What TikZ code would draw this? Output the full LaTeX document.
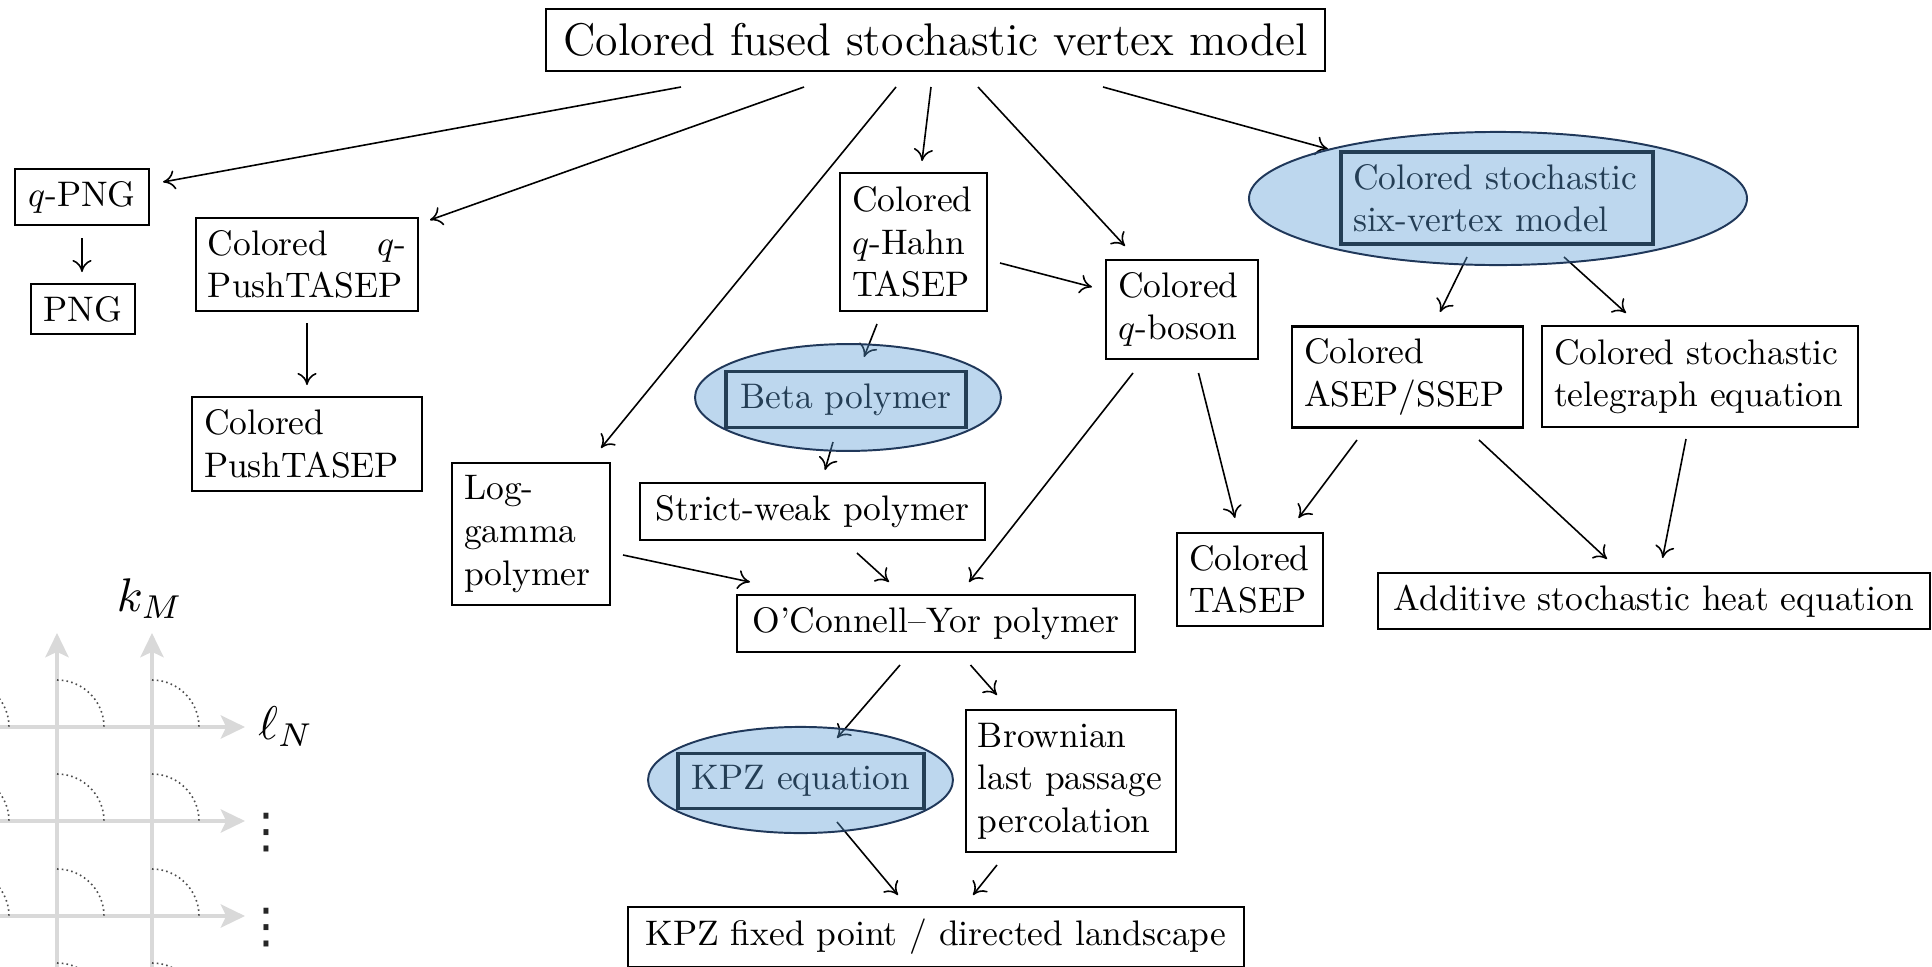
\documentclass[tikz,border=0pt]{standalone}
\usepackage{graphicx}
\usepackage{fontspec}
\newfontfamily\djv{DejaVu Sans}
\usetikzlibrary{arrows.meta,shapes.geometric}
\definecolor{ellfill}{RGB}{91,155,213}
\definecolor{ellline}{RGB}{32,56,90}
\definecolor{latgray}{RGB}{217,217,217}
\begin{document}
\begin{tikzpicture}[x=0.2817pt,y=-0.2817pt,
  box/.style={draw, line width=0.7pt, inner xsep=3.4pt, inner ysep=3.4pt, font=\fontsize{10}{12}\selectfont},
  mbox/.style={box, align=left, text width=#1},
  ibox/.style={line width=0.95pt},
  ell/.style={ellipse, inner sep=0pt, fill=ellfill, fill opacity=0.4, draw=ellline, draw opacity=1, line width=0.55pt},
  arr/.style={line width=0.45pt, -{To[length=3.4pt,width=5.4pt]}},
  latline/.style={draw=latgray, line width=1.13pt, -{Stealth[length=6.8pt,width=6.5pt,inset=1.5pt]}},
  latarc/.style={draw=black!70, line width=0.45pt, dash pattern=on 0.45pt off 0.9pt},
  lab/.style={inner sep=0pt, font=\fontsize{10}{12}\selectfont},
  dots/.style={inner sep=0pt, text=black!85, font=\djv\fontsize{13.5}{15}\selectfont}]
\fill[white] (0,0) rectangle (1932,967);
\useasboundingbox (0,0) rectangle (1932,967);

% lattice
\begin{scope}
\clip (0,0) rectangle (1932,967);
\foreach \x in {57,152} \draw[latline] (\x,1000) -- (\x,633);
\foreach \y in {727,821,916} \draw[latline] (-10,\y) -- (245,\y);
\foreach \x in {-38,57,152} \foreach \y in {727,821,916,1010}
  \draw[latarc] (\x,\y-47) arc[start angle=270,end angle=360,radius=47];
\end{scope}
\node[lab] (kM) at (150,599) {\scalebox{1.33}{$k_M$}};
\node[lab] (lN) at (286,727) {\scalebox{1.33}{$\ell_N$}};
\node[dots] (vd1) at (266,833) {⋮};
\node[dots] (vd2) at (266,927.5) {⋮};

% nodes
\node[box, line width=0.8pt, minimum width=219.4pt, minimum height=17.5pt, font=\fontsize{12.9}{15}\selectfont] (title) at (935.5,40) {Colored fused stochastic vertex model};
\node[box, minimum width=37.7pt, minimum height=15.8pt] (qpng) at (82,197) {$q$-PNG};
\node[box, minimum width=29.3pt, minimum height=13.5pt] (png) at (83,309) {PNG};
\node[mbox=55.8pt, minimum height=26.2pt] (qpush) at (307,264.5) {Colored\hfill$q$-\\PushTASEP};
\node[mbox=58pt, minimum height=26.5pt] (push) at (307,444) {Colored\\PushTASEP};
\node[mbox=34.6pt, minimum height=38.9pt] (qhahn) at (913.5,242) {Colored\\$q$-Hahn\\TASEP};
\node[mbox=36pt, minimum height=27.9pt] (qboson) at (1182,309.5) {Colored\\$q$-boson};
\node[mbox=37.7pt, minimum height=40pt] (loggamma) at (531,534) {Log-\\gamma\\polymer};
\node[box, minimum width=97.2pt, minimum height=16.1pt] (strict) at (812.5,511.5) {Strict-weak polymer};
\node[box, minimum width=112.1pt, minimum height=16.1pt] (oconnell) at (936,623.5) {O’Connell–Yor polymer};
\node[mbox=52.4pt, minimum height=40pt] (brownian) at (1071,781) {Brownian\\last passage\\percolation};
\node[box, minimum width=173.5pt, minimum height=16.3pt] (kpzfp) at (936,937) {KPZ fixed point / directed landscape};
\node[mbox=34.3pt, minimum height=26.2pt] (ctasep) at (1250,579.5) {Colored\\TASEP};
\node[mbox=58.3pt, minimum height=28.2pt] (asep) at (1407.5,377) {Colored\\ASEP/SSEP};
\node[mbox=82.2pt, minimum height=28.5pt] (teleg) at (1700,376.5) {Colored stochastic\\telegraph equation};
\node[box, minimum width=155.5pt, minimum height=15.8pt] (additive) at (1654,601) {Additive stochastic heat equation};
\node[mbox=81.1pt, ibox, minimum height=25.9pt] (sixv) at (1497,198) {Colored stochastic\\six-vertex model};
\node[box, ibox, minimum width=67.6pt, minimum height=15.5pt] (beta) at (846,399.5) {Beta polymer};
\node[box, ibox, minimum width=69.3pt, minimum height=15.2pt] (kpz) at (801,781) {KPZ equation};

% connectors
\draw[arr] ([shift={(-254.5,47)}]title.center) -- ([shift={(81,-15)}]qpng.center);
\draw[arr] ([shift={(-131.5,47)}]title.center) -- ([shift={(123,-44.5)}]qpush.center);
\draw[arr] ([shift={(-39.5,47)}]title.center) -- ([shift={(70,-86)}]loggamma.center);
\draw[arr] ([shift={(-4.5,47)}]title.center) -- ([shift={(8.5,-81)}]qhahn.center);
\draw[arr] ([shift={(42.5,47)}]title.center) -- ([shift={(-57,-63.5)}]qboson.center);
\draw[arr] ([shift={(167.5,47)}]title.center) -- ([shift={(-169,-49)}]sixv.center);
\draw[arr] ([shift={(0,41)}]qpng.center) -- ([shift={(-1,-37)}]png.center);
\draw[arr] ([shift={(0,58.5)}]qpush.center) -- ([shift={(0,-59)}]push.center);
\draw[arr] ([shift={(86.5,21)}]qhahn.center) -- ([shift={(-90,-22.5)}]qboson.center);
\draw[arr] ([shift={(-36.5,82)}]qhahn.center) -- ([shift={(18,-42.5)}]beta.center);
\draw[arr] ([shift={(-13,42.5)}]beta.center) -- ([shift={(12.5,-41.5)}]strict.center);
\draw[arr] ([shift={(44.5,41.5)}]strict.center) -- ([shift={(-47,-41.5)}]oconnell.center);
\draw[arr] ([shift={(92,21)}]loggamma.center) -- ([shift={(-186,-41.5)}]oconnell.center);
\draw[arr] ([shift={(-49,63.5)}]qboson.center) -- ([shift={(33,-41.5)}]oconnell.center);
\draw[arr] ([shift={(16.5,63.5)}]qboson.center) -- ([shift={(-15,-61.5)}]ctasep.center);
\draw[arr] ([shift={(-30,59)}]sixv.center) -- ([shift={(32.5,-65)}]asep.center);
\draw[arr] ([shift={(67,59)}]sixv.center) -- ([shift={(-74,-63.5)}]teleg.center);
\draw[arr] ([shift={(-50.5,63)}]asep.center) -- ([shift={(48.5,-61.5)}]ctasep.center);
\draw[arr] ([shift={(71.5,63)}]asep.center) -- ([shift={(-47,-42)}]additive.center);
\draw[arr] ([shift={(-14,62.5)}]teleg.center) -- ([shift={(8.6,-43)}]additive.center);
\draw[arr] ([shift={(-36,41.5)}]oconnell.center) -- ([shift={(36,-43)}]kpz.center);
\draw[arr] ([shift={(34.5,41.5)}]oconnell.center) -- ([shift={(-74,-86)}]brownian.center);
\draw[arr] ([shift={(36,41)}]kpz.center) -- ([shift={(-38,-42)}]kpzfp.center);
\draw[arr] ([shift={(-74,84)}]brownian.center) -- ([shift={(37,-42)}]kpzfp.center);

% translucent ellipses
\node[ell, minimum width=140.3pt, minimum height=37.5pt] (sixvE) at (1498,198.5) {};
\node[ell, minimum width=86.2pt, minimum height=30.1pt] (betaE) at (848,397.5) {};
\node[ell, minimum width=85.9pt, minimum height=29.9pt] (kpzE) at (800.5,780) {};
\end{tikzpicture}
\end{document}
